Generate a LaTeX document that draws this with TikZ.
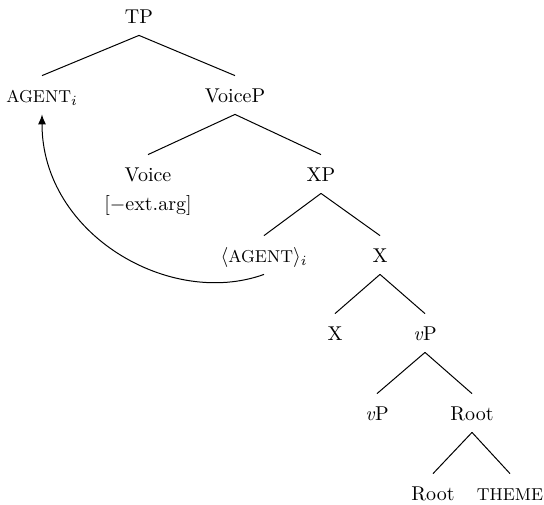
\documentclass[tikz,border=0pt]{standalone}
\usetikzlibrary{arrows.meta}
\newcommand{\fsc}[1]{{\fontsize{8.6}{10}\selectfont #1}}
\begin{document}
\begin{tikzpicture}[x=0.5pt,y=-0.5pt,
  tn/.style={anchor=base, inner xsep=1pt, inner ysep=4.5pt, text height=8.5pt, text depth=1.5pt, font=\fontsize{10}{12}\selectfont},
  br/.style={line width=0.5pt},
  mv/.style={line width=0.5pt, -{Latex[length=5pt,width=4pt]}}]
\useasboundingbox (0,0) rectangle (544,504);
\node[tn] (tp) at (139,23) {TP};
\node[tn] (agent) at (42,102) {\fsc{AGENT}$_i$};
\node[tn] (voicep) at (235,102) {VoiceP};
\node[tn] (voice) at (148,181) {Voice};
\node[anchor=base, inner sep=0pt, font=\fontsize{10}{12}\selectfont] (feat) at (148,210) {[$-$ext.arg]};
\node[tn] (xp) at (321,181) {XP};
\node[tn] (trace) at (264,262) {$\langle$\fsc{AGENT}$\rangle_i$};
\node[tn] (xbar) at (380,262) {X};
\node[tn] (x) at (335,340) {X};
\node[tn] (vp) at (425,340) {\textit{v}P};
\node[tn] (vp2) at (377,420) {\textit{v}P};
\node[tn] (root) at (472,420) {Root};
\node[tn] (root2) at (433,500) {Root};
\node[tn] (theme) at (510,500) {\fsc{THEME}};
\draw[br] (tp.south) -- (agent.north);
\draw[br] (tp.south) -- (voicep.north);
\draw[br] (voicep.south) -- (voice.north);
\draw[br] (voicep.south) -- (xp.north);
\draw[br] (xp.south) -- (trace.north);
\draw[br] (xp.south) -- (xbar.north);
\draw[br] (xbar.south) -- (x.north);
\draw[br] (xbar.south) -- (vp.north);
\draw[br] (vp.south) -- (vp2.north);
\draw[br] (vp.south) -- (root.north);
\draw[br] (root.south) -- (root2.north);
\draw[br] (root.south) -- (theme.north);
\draw[mv] (trace.south) .. controls +(-94,34) and +(0,120) .. (agent.south);
\end{tikzpicture}
\end{document}
